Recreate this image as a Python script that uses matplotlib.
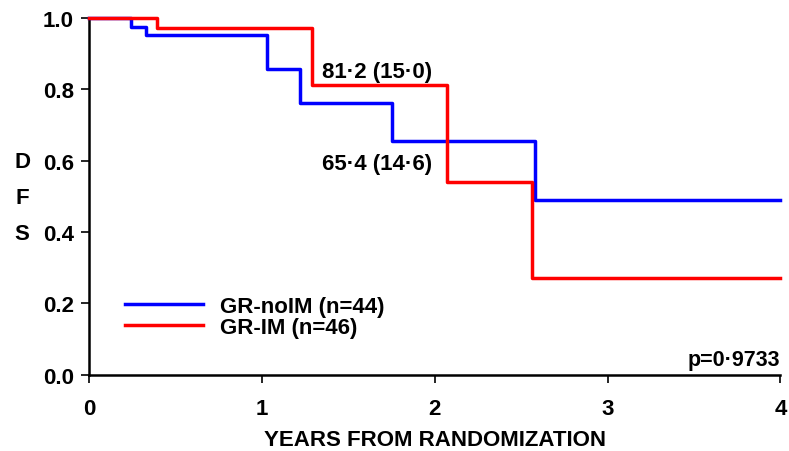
import matplotlib
matplotlib.use("Agg")
import matplotlib.pyplot as plt

# Kaplan-Meier step data (years, DFS)
noim_t = [0.0, 0.24, 0.33, 1.03, 1.22, 1.75, 2.58, 4.0]
noim_s = [1.0, 0.976, 0.952, 0.857, 0.762, 0.654, 0.490, 0.490]
im_t = [0.0, 0.39, 1.29, 2.07, 2.56, 4.0]
im_s = [1.0, 0.972, 0.812, 0.541, 0.271, 0.271]

legend_labels = ["GR-noIM (n=44)", "GR-IM (n=46)"]
xticks = [0, 1, 2, 3, 4]
yticks = [0.0, 0.2, 0.4, 0.6, 0.8, 1.0]

plt.rcParams['font.family'] = ['Liberation Sans', 'DejaVu Sans']
plt.rcParams['font.weight'] = 'bold'

FS = 16

fig = plt.figure(figsize=(7.89, 4.52), dpi=100)
ax = fig.add_axes([0.113, 0.169, 0.876, 0.789])

ax.step(noim_t, noim_s, where='post', color='#0000ff', lw=2.5, clip_on=False,
        label=legend_labels[0], zorder=3)
ax.step(im_t, im_s, where='post', color='#ff0000', lw=2.5, clip_on=False,
        label=legend_labels[1], zorder=3)

ax.set_xlim(0, 4)
ax.set_ylim(0, 1.0)
ax.set_xticks(xticks)
ax.set_xticklabels([str(t) for t in xticks], fontsize=FS, fontweight='bold')
ax.set_yticks(yticks)
ax.set_yticklabels([f"{v:.1f}" for v in yticks], fontsize=FS, fontweight='bold')
ax.tick_params(direction='out', length=6, width=1.2)
ax.tick_params(axis='y', pad=5)
ax.tick_params(axis='x', pad=11)

for s in ['top', 'right']:
    ax.spines[s].set_visible(False)
for s in ['left', 'bottom']:
    ax.spines[s].set_linewidth(1.8)

ax.set_xlabel("YEARS FROM RANDOMIZATION", fontsize=FS, fontweight='bold', labelpad=7)

for i, ch in enumerate("DFS"):
    fig.text(0.028, 1 - (162 + 36.5 * i) / 452, ch, fontsize=FS, fontweight='bold',
             ha='center', va='center')

ax.text(1.35, 0.849, "81·2 (15·0)", fontsize=FS, fontweight='bold', ha='left', va='center')
ax.text(1.35, 0.591, "65·4 (14·6)", fontsize=FS, fontweight='bold', ha='left', va='center')
ax.text(4.0, 0.028, "p=0·9733", fontsize=15.5, fontweight='bold', ha='right', va='baseline')

leg = ax.legend(loc='lower left', bbox_to_anchor=(0.039, 0.078), frameon=False,
                prop={'size': FS, 'weight': 'bold'}, handlelength=3.5,
                handletextpad=0.77, labelspacing=0.0, borderaxespad=0)

fig.savefig("out.png", dpi=100)
